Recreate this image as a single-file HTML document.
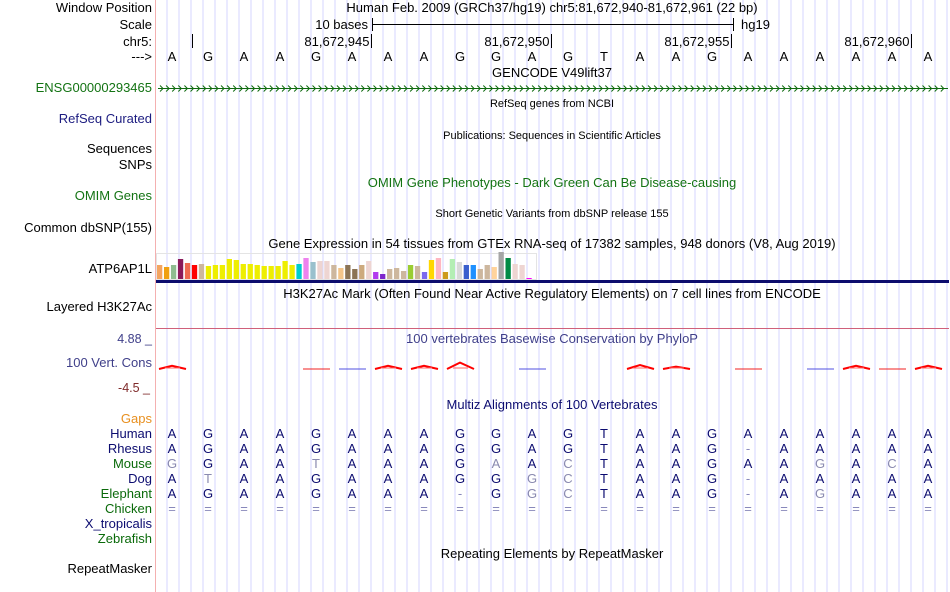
<!DOCTYPE html>
<html><head><meta charset="utf-8"><style>
html,body{margin:0;padding:0;background:#fff;}
svg{display:block;font-family:"Liberation Sans",sans-serif;}
</style></head><body>
<svg id="c" width="950" height="592" viewBox="0 0 950 592" xmlns="http://www.w3.org/2000/svg"></svg>
<script>
const bases = ["A","G","A","A","G","A","A","A","G","G","A","G","T","A","A","G","A","A","A","A","A","A"];
const speciesNames = ["Human","Rhesus","Mouse","Dog","Elephant","Chicken"];
const speciesColors = ["#0c0c70","#0c0c70","#0a6a0a","#0c0c70","#0a6a0a","#0a6a0a"];
const alnHuman    = "AGAAGAAAGGAGTAAGAAAAAA";
const alnRhesus   = "AGAAGAAAGGAGTAAG-AAAAA";
const alnMouse    = "GGAATAAAGAACTAAGAAGACA";
const alnDog      = "ATAAGAAAGGGCTAAG-AAAAA";
const alnElephant = "AGAAGAAA-GGCTAAG-AGAAA";
const alnChicken  = "======================";
const gtexValues = [14,12,14,20,16,14,15,13,14,14,20,19,15,15,14,13,13,13,18,14,15,21,17,18,18,14,11,14,10,14,18,7,5,10,11,8,14,13,7,19,21,7,20,17,14,14,10,14,12,27,21,15,14,1];
const gtexColors = ["#f4a460","#f0a010","#8fbc8f","#8b1a5a","#ee6a50","#ff0000","#cdb79e","#eeee00","#eeee00","#eeee00","#eeee00","#eeee00","#eeee00","#eeee00","#eeee00","#eeee00","#eeee00","#eeee00","#eeee00","#eeee00","#00cdcd","#ee82ee","#9ac0cd","#eed5d2","#eed5d2","#cdb79e","#f4c58a","#8b7355","#8b7355","#cdaa7d","#eed5d2","#b23aee","#7d26cd","#cdb79e","#cdb79e","#cdb79e","#9acd32","#cdb79e","#7b68ee","#ffd700","#ffb6c1","#cd9b1d","#b4eeb4","#d9d9d9","#3a5fcd","#1e90ff","#cdb79e","#cdb79e","#ffd39b","#a6a6a6","#008b45","#eed5d2","#eed5d2","#ff00ff"];
const phyloP = [2,0,0,0,0.3,-0.5,2,2,4,0,-0.5,0,0,2.5,1.5,0,0.3,0,-1.2,2,0.4,2];
const chrTicks = ["81,672,945","81,672,950","81,672,955","81,672,960"];
const chrTickBase = [6,11,16,21];

const NS="http://www.w3.org/2000/svg";
const svg=document.getElementById('c');
const X0=155, BW=36;
function bx(i){return X0+BW*i;}
function bc(i){return X0+BW*i+17;}
function el(tag,attrs,parent){const e=document.createElementNS(NS,tag);for(const k in attrs)e.setAttribute(k,attrs[k]);(parent||svg).appendChild(e);return e;}
function txt(s,x,y,size,color,anchor,name){const t=el('text',{x:x,y:y,'font-size':size,fill:color,'text-anchor':anchor||'start'});t.textContent=s;


return t;}

const grid=el('g',{});


for(let k=1;k<=66;k++){el('line',{x1:X0+12*k,y1:0,x2:X0+12*k,y2:592,stroke:'#d6d6ff','stroke-width':1},grid);}
const border=el('line',{x1:155.5,y1:0,x2:155.5,y2:592,stroke:'#f4b0b0','stroke-width':1});



const labels=[["Window Position",12,"#000"],["Scale",29,"#000"],["chr5:",46,"#000"],["--->",61,"#000"],["ENSG00000293465",92,"#137313"],["RefSeq Curated",123,"#1c1c80"],["Sequences",153,"#000"],["SNPs",169,"#000"],["OMIM Genes",200,"#137313"],["Common dbSNP(155)",232,"#000"],["ATP6AP1L",273,"#000"],["Layered H3K27Ac",311,"#000"],["100 Vert. Cons",367,"#40408a"],["Gaps",423,"#e89020"],["X_tropicalis",528,"#0c0c70"],["Zebrafish",543,"#0a6a0a"],["RepeatMasker",573,"#000"]];
labels.forEach(l=>{const t=txt(l[0],152,l[1],13,l[2],'end','track-label');});
speciesNames.forEach((n,i)=>{const t=txt(n,152,438+15*i,13,speciesColors[i],'end','species-label');});
txt("4.88 _",152,343,12.5,"#40408a",'end','y-max-label');
txt("-4.5 _",150,392,12.5,"#7f2a2a",'end','y-min-label');

txt("Human Feb. 2009 (GRCh37/hg19)   chr5:81,672,940-81,672,961 (22 bp)",552,12,13,"#000",'middle','window-position');
txt("10 bases",368,29,13,"#000",'end','scale-text');
txt("hg19",741,29,13,"#000",'start','scale-assembly');
const sb=el('g',{stroke:'#000','stroke-width':1});


el('line',{x1:372.5,y1:24.5,x2:733.5,y2:24.5},sb);
el('line',{x1:372.5,y1:18,x2:372.5,y2:31},sb);
el('line',{x1:733.5,y1:18,x2:733.5,y2:31},sb);
const ct=el('line',{x1:192.5,y1:34,x2:192.5,y2:48,stroke:'#000'});


chrTicks.forEach((s,i)=>{const x=bx(chrTickBase[i])+0.5;
 const l=el('line',{x1:x,y1:34,x2:x,y2:48,stroke:'#000'});
 
 
 txt(s,x-2,46,13,"#000",'end','chr-tick-label');});
bases.forEach((b,i)=>{txt(b,bc(i),61,13,"#000",'middle','base-letter');});

txt("GENCODE V49lift37",552,77,13,"#000",'middle','gencode-title');
const gene=el('g',{stroke:'#0e6a0e','stroke-width':1,fill:'none'});


el('line',{x1:158,y1:88.5,x2:948,y2:88.5},gene);
for(let x=160;x<946;x+=6.1){el('polyline',{points:`${x},85.5 ${x+3},88.5 ${x},91.5`},gene);}

txt("RefSeq genes from NCBI",552,107,11,"#000",'middle','refseq-title');
txt("Publications: Sequences in Scientific Articles",552,139,11,"#000",'middle','publications-title');
txt("OMIM Gene Phenotypes - Dark Green Can Be Disease-causing",552,187,13,"#137313",'middle','omim-title');
txt("Short Genetic Variants from dbSNP release 155",552,217,11,"#000",'middle','dbsnp-title');
txt("Gene Expression in 54 tissues from GTEx RNA-seq of 17382 samples, 948 donors (V8, Aug 2019)",552,248,13,"#000",'middle','gtex-title');

const gb=el('rect',{x:156.5,y:253.5,width:380,height:26,fill:'none',stroke:'#e4e4e4'});


const base=279, pitch=6.97;
gtexValues.forEach((v,i)=>{const r=el('rect',{x:157+pitch*i,y:base-v,width:5.3,height:v,fill:gtexColors[i]});
 
 });
const nav=el('rect',{x:156,y:280,width:793,height:3,fill:'#0c0c6e'});



txt("H3K27Ac Mark (Often Found Near Active Regulatory Elements) on 7 cell lines from ENCODE",552,298,13,"#000",'middle','h3k27ac-title');
const pl=el('line',{x1:156,y1:328.5,x2:949,y2:328.5,stroke:'#d0607a'});


txt("100 vertebrates Basewise Conservation by PhyloP",552,343,13,"#40408a",'middle','phylop-title');

const zeroY=369;
function py(v){return zeroY-v*1.6;}
phyloP.forEach((v,i)=>{
 const x0=bx(i)+4,x1=bx(i)+31,xc=bc(i);
 let e;
 if(v<0){e=el('line',{x1:x0,y1:zeroY,x2:x1,y2:zeroY,stroke:'#5050e0','stroke-width':1});}
 else if(v===0){return;}
 else if(v<0.5){e=el('line',{x1:x0,y1:zeroY,x2:x1,y2:zeroY,stroke:'#f02020','stroke-width':1});}
 else{e=el('polyline',{points:`${x0},${zeroY} ${xc},${py(v)} ${x1},${zeroY}`,fill:'none',stroke:'#f00','stroke-width':2});
   el('line',{x1:x0+6,y1:zeroY-1,x2:x1-6,y2:zeroY-1,stroke:'#f66','stroke-width':1});}
 
 
});

txt("Multiz Alignments of 100 Vertebrates",552,409,13,"#0c0c70",'middle','multiz-title');
const rows=[alnHuman,alnRhesus,alnMouse,alnDog,alnElephant,alnChicken];
rows.forEach((row,r)=>{for(let i=0;i<row.length;i++){const c=row[i];
 let col="#0c0c70";
 if(c==='='||c==='-')col="#8888bb";
 else if(r>0&&c!==alnHuman[i])col="#8a8ab0";
 txt(c,bc(i),438+15*r,13,col,'middle','alignment-base');}});

txt("Repeating Elements by RepeatMasker",552,558,13,"#000",'middle','repeatmasker-title');
</script>
</body></html>
